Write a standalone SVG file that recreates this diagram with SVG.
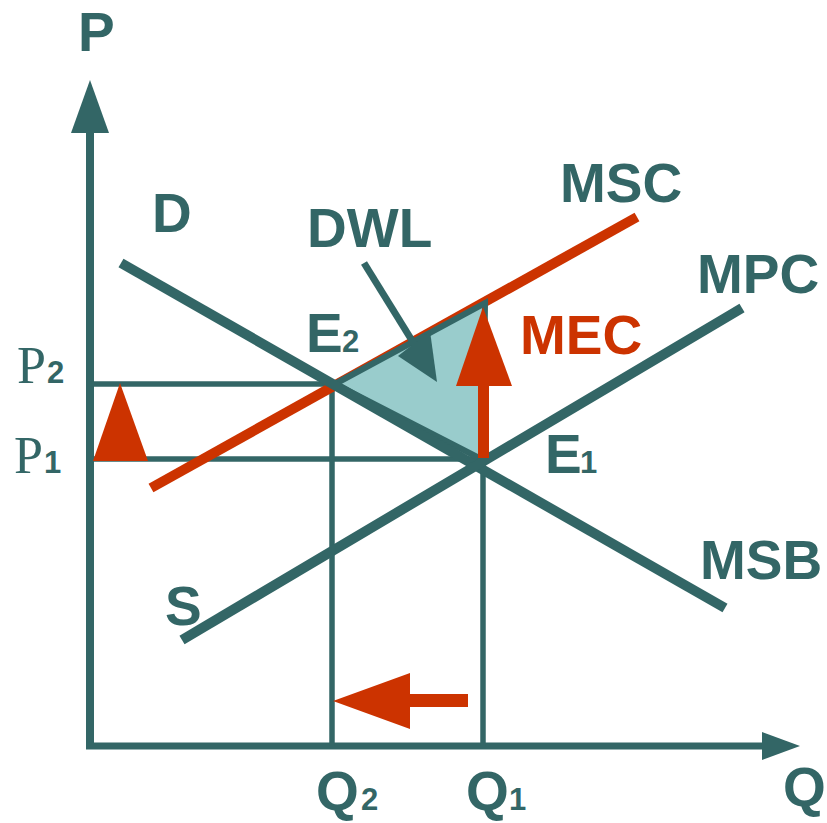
<svg xmlns="http://www.w3.org/2000/svg" width="827" height="823" viewBox="0 0 827 823">
<style>
.t{fill:#336666;stroke:none}
.r{fill:#CC3300;stroke:none}
.lbl{font-family:"Liberation Sans",Arial,sans-serif;font-weight:bold;font-size:55px;fill:#336666}
.sub{font-family:"Liberation Sans",Arial,sans-serif;font-weight:bold;font-size:31px}
.serif{font-family:"Liberation Serif","Times New Roman",serif;font-weight:normal;font-size:52px}
.guide{stroke:#336666;stroke-width:5.5;fill:none}
.curve{stroke:#336666;stroke-width:10;fill:none}
</style>
<rect width="827" height="823" fill="#ffffff"/>
<g id="connectors">
  <!-- axes -->
  <line x1="90" y1="128" x2="90" y2="749" stroke="#336666" stroke-width="8"/>
  <polygon class="t" points="90,80 71,133 109,133"/>
  <line x1="86" y1="746" x2="766" y2="746" stroke="#336666" stroke-width="7"/>
  <polygon class="t" points="800,746 762,732 762,760"/>
  <!-- guide lines -->
  <line class="guide" x1="90" y1="384" x2="333" y2="384"/>
  <line class="guide" x1="90" y1="459" x2="483" y2="459"/>
  <line class="guide" x1="332" y1="384" x2="332" y2="746"/>
  <line class="guide" x1="483" y1="459" x2="483" y2="746"/>
  <!-- MSC -->
  <line x1="151" y1="488" x2="637" y2="217" stroke="#CC3300" stroke-width="10"/>
  <!-- DWL triangle -->
  <polygon points="335,384 485,303 483,460" fill="#99CCCC" stroke="#336666" stroke-width="6" stroke-linejoin="miter"/>
  <!-- D / MSB -->
  <line class="curve" x1="121" y1="263" x2="725" y2="608"/>
  <!-- S / MPC -->
  <line class="curve" x1="182" y1="640" x2="742" y2="308"/>
  <!-- DWL arrow -->
  <line x1="364" y1="263" x2="416" y2="347" stroke="#336666" stroke-width="7"/>
  <polygon class="t" points="437,382 398,356 430,331"/>
  <!-- MEC arrow -->
  <rect class="r" x="478" y="380" width="11" height="78"/>
  <polygon class="r" points="483,307 456,386 512,386"/>
  <!-- price rise arrow -->
  <polygon class="r" points="120,383 93,461 148,461"/>
  <!-- quantity fall arrow -->
  <rect class="r" x="405" y="694" width="63" height="13"/>
  <polygon class="r" points="333,701 410,673 410,729"/>
</g>
<g id="label-P"><text class="lbl" x="78" y="51">P</text></g>
<g id="label-Q"><text class="lbl" x="783" y="806">Q</text></g>
<g id="label-D"><text class="lbl" x="152" y="232">D</text></g>
<g id="label-DWL"><text class="lbl" x="307" y="247">DWL</text></g>
<g id="label-MSC"><text class="lbl" x="560" y="202">MSC</text></g>
<g id="label-MPC"><text class="lbl" x="697" y="293">MPC</text></g>
<g id="label-MEC"><text class="lbl" x="520" y="354" style="fill:#CC3300">MEC</text></g>
<g id="label-MSB"><text class="lbl" x="700" y="579">MSB</text></g>
<g id="label-S"><text class="lbl" x="165" y="625">S</text></g>
<g id="label-E2"><text class="lbl" x="306" y="352">E<tspan class="sub" x="342">2</tspan></text></g>
<g id="label-E1"><text class="lbl" x="545" y="473">E<tspan class="sub" x="580">1</tspan></text></g>
<g id="label-P2"><text class="lbl" x="17" y="383"><tspan class="serif">P</tspan><tspan class="sub" x="47">2</tspan></text></g>
<g id="label-P1"><text class="lbl" x="14" y="473"><tspan class="serif">P</tspan><tspan class="sub" x="44">1</tspan></text></g>
<g id="label-Q2"><text class="lbl" x="316" y="810">Q<tspan class="sub" x="361">2</tspan></text></g>
<g id="label-Q1"><text class="lbl" x="466" y="810">Q<tspan class="sub" x="509">1</tspan></text></g>
</svg>
